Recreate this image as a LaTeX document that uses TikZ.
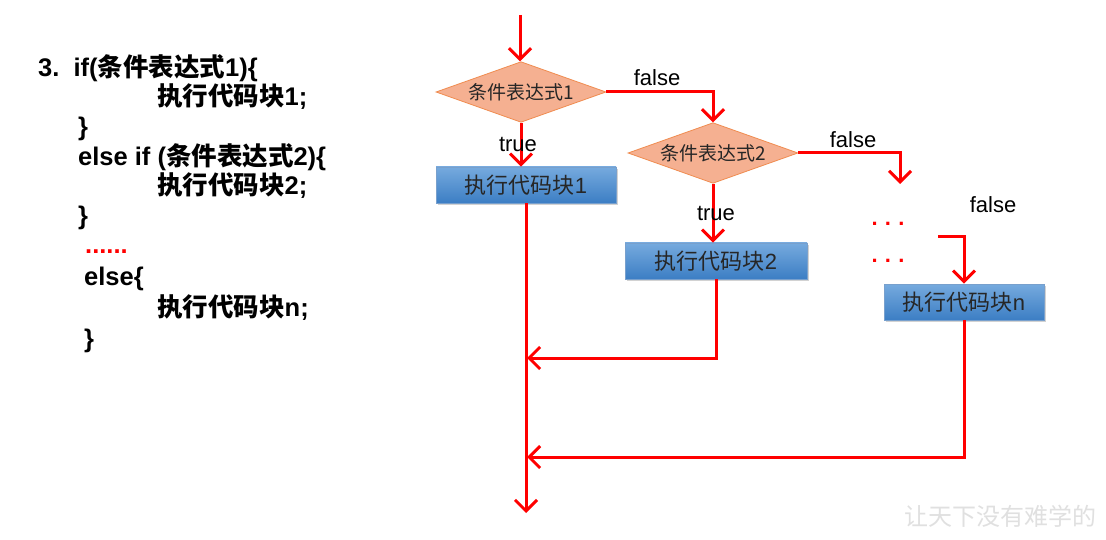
\documentclass[tikz,border=0pt]{standalone}
\usepackage{fontspec}
\setmainfont{Liberation Sans}
\newfontfamily\cjk{Noto Sans CJK SC}
\usetikzlibrary{arrows.meta,shapes.geometric,shadows}
\definecolor{flowred}{RGB}{255,0,0}
\definecolor{condfill}{RGB}{245,176,145}
\definecolor{condline}{RGB}{240,140,80}
\definecolor{blocktop}{RGB}{118,170,222}
\definecolor{blockbot}{RGB}{60,126,196}
\definecolor{blockline}{RGB}{120,160,205}
\tikzset{
  flow/.style={draw=flowred, line width=3pt,
    -{Straight Barb[length=11pt,width=22pt,line width=3pt]}},
  cond/.style={diamond, draw=condline, fill=condfill, line width=0.8pt,
    aspect=2.45, minimum width=170pt, inner sep=0pt,
    font=\cjk\fontsize{19}{22}\selectfont, text=black!85},
  block/.style={rectangle, draw=blockline, line width=0.6pt,
    top color=blocktop, bottom color=blockbot,
    drop shadow={shadow xshift=1.5pt, shadow yshift=-2pt, opacity=0.35},
    minimum height=36pt, inner sep=0pt,
    font=\fontsize{22}{26}\selectfont, text=black!85},
  code/.style={anchor=base west, inner sep=0pt,
    font=\bfseries\fontsize{25.5}{30}\selectfont},
  lbl/.style={inner sep=0pt, font=\fontsize{22}{26}\selectfont},
  reddots/.style={inner sep=0pt, text=flowred, font=\bfseries\fontsize{22}{26}\selectfont}
}
\begin{document}
\begin{tikzpicture}[x=1pt,y=-1pt]
\useasboundingbox[fill=white] (0,0) rectangle (1106,540);

% source code listing
\node[code] (c1) at (38,77) {3.\ \ if({\cjk\bfseries 条件表达式}1)\{};
\node[code] (c2) at (157,106) {{\cjk\bfseries 执行代码块}1;};
\node[code] (c3) at (78,136) {\}};
\node[code] (c4) at (78,166) {else if ({\cjk\bfseries 条件表达式}2)\{};
\node[code] (c5) at (157,195) {{\cjk\bfseries 执行代码块}2;};
\node[code] (c6) at (78,225) {\}};
\node[code, text=flowred] (c7) at (85,254) {......};
\node[code] (c8) at (84,286) {else\{};
\node[code] (c9) at (157,316) {{\cjk\bfseries 执行代码块}n;};
\node[code] (c10) at (84,347) {\}};

% flowchart nodes
\coordinate (start) at (520,15);
\node[cond] (d1) at (521,92) {条件表达式1};
\node[cond] (d2) at (713,153) {条件表达式2};
\node[block, minimum width=180pt] (b1) at (526,185) {{\cjk 执行代码块}1};
\node[block, minimum width=182pt] (b2) at (716,261) {{\cjk 执行代码块}2};
\node[block, minimum width=160pt] (bn) at (964,302) {{\cjk 执行代码块}n};
\coordinate (f2end) at (900,184);
\coordinate (fnstart) at (938,237);
\coordinate (join1) at (527,358);
\coordinate (join2) at (527,457);
\coordinate (finish) at (526,513);

% connectors
\draw[flow] (start) -- (start |- d1.north);
\draw[flow] (d1.south) -- (d1.south |- b1.north);
\draw[flow] (d1.east) -| (d2.north);
\draw[flow] (d2.south) -- (d2.south |- b2.north);
\draw[flow] (d2.east) -| (f2end);
\draw[flow] (fnstart) -| (bn.north);
\draw[flow] (b1.south) -- (finish);
\draw[flow] (b2.south) |- (join1);
\draw[flow] (bn.south) |- (join2);

% branch labels
\node[lbl] (t1) at (518,144) {true};
\node[lbl] (f1) at (657,78) {false};
\node[lbl] (t2) at (716,213) {true};
\node[lbl] (f2) at (853,140) {false};
\node[lbl] (f3) at (993,205) {false};
\node[reddots] (dots1) at (888,224) {.\,\,.\,\,.};
\node[reddots] (dots2) at (888,261) {.\,\,.\,\,.};

% watermark
\node[inner sep=0pt, text=black!12, font=\cjk\fontsize{24}{28}\selectfont]
  (wm) at (1000,516) {让天下没有难学的};
\end{tikzpicture}
\end{document}
